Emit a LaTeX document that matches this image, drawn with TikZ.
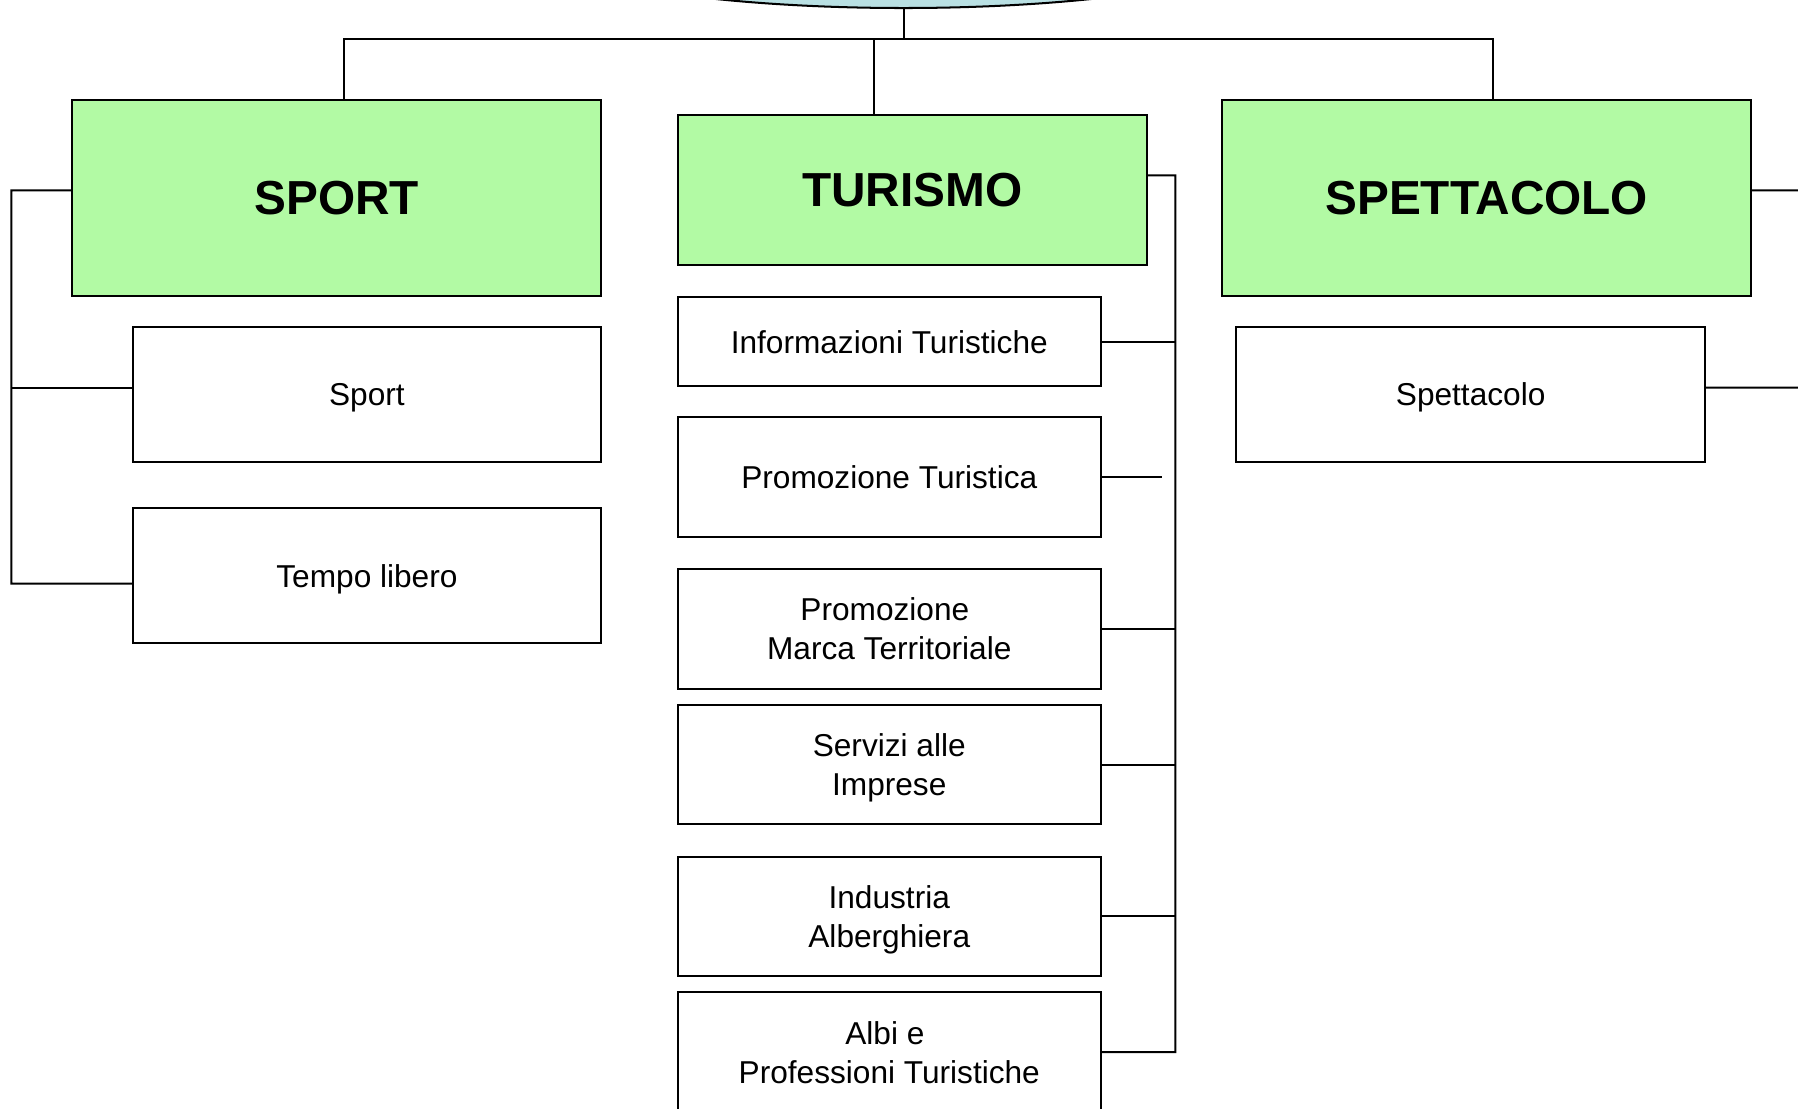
\documentclass[tikz,border=0pt]{standalone}
\usepackage{fontspec}
\setmainfont{Liberation Sans}
\usepackage{tikz}
\usetikzlibrary{shapes.geometric, positioning, calc}
\definecolor{areagreen}{RGB}{178,250,164}
\definecolor{enteblue}{RGB}{185,224,227}

\begin{document}
\begin{tikzpicture}[
    x=0.02cm, y=-0.02cm,
    line width=1pt,
    head/.style={draw, fill=areagreen, font=\fontsize{23.7}{28}\selectfont\bfseries, align=center},
    item/.style={draw, fill=white, minimum width=8.16cm, minimum height=2.36cm, text depth=0pt, font=\fontsize{15.7}{19.3}\selectfont, align=center},
    tur/.style={item, minimum width=7.38cm, minimum height=2.08cm},
]
    \useasboundingbox (0,0) rectangle (1568,967);

    \node[draw, ellipse, fill=enteblue, minimum width=13.92cm, minimum height=2.68cm] (ente) at (788,-60) {};

    \node[head, minimum width=9.22cm, minimum height=3.42cm] (sport) at (293.5,172.5) {SPORT};
    \node[head, minimum width=8.18cm, minimum height=2.62cm] (turismo) at (795.5,165.5) {TURISMO};
    \node[head, minimum width=9.22cm, minimum height=3.42cm] (spett) at (1296.5,172.5) {SPETTACOLO};

    \node[item] (sportbox) at (320,344) {Sport};
    \node[item] (tempo) at (320,502) {Tempo libero};
    \node[item, minimum width=8.18cm] (spettbox) at (1282.5,344) {Spettacolo};

    \node[tur, minimum height=1.56cm] (info) at (775.5,298) {Informazioni Turistiche};
    \node[tur] (promo) at (775.5,416) {Promozione Turistica};
    \node[tur, minimum height=2.1cm] (marca) at (775.5,548.5) {\mbox{Promozione\ }\\Marca Territoriale};
    \node[tur] (servizi) at (775.5,667) {Servizi alle\\Imprese};
    \node[tur] (industria) at (775.5,799) {Industria\\Alberghiera};
    \node[tur, minimum height=2.1cm] (albi) at (775.5,917.5) {\mbox{Albi e\ }\\Professioni Turistiche};

    \coordinate (bus) at (788,34);
    \coordinate (lbus) at (10,166);
    \coordinate (rbus) at (1025,153);
    \coordinate (rout) at (1600,166);
    \coordinate (pgap) at (1013,416);

    \draw (ente.south) -- (bus);
    \draw ([xshift=0.13cm]sport.north) |- (bus) -| ([xshift=0.11cm]spett.north);
    \draw ([xshift=-0.67cm]turismo.north) -- ([xshift=-0.67cm]turismo.north |- bus);

    \draw ([yshift=0.13cm]sport.west) -- (lbus) |- ([yshift=-0.14cm]tempo.west);
    \draw ([yshift=0.12cm]sportbox.west) -- ([yshift=0.12cm]sportbox.west -| lbus);

    \draw ([yshift=0.25cm]turismo.east) -- (rbus) |- (albi.east);
    \foreach \n in {info, marca, servizi, industria}
        \draw (\n.east) -- (\n.east -| rbus);
    \draw (promo.east) -- (pgap);

    \draw ([yshift=0.13cm]spett.east) -- (rout) |- ([yshift=0.12cm]spettbox.east);
\end{tikzpicture}
\end{document}
